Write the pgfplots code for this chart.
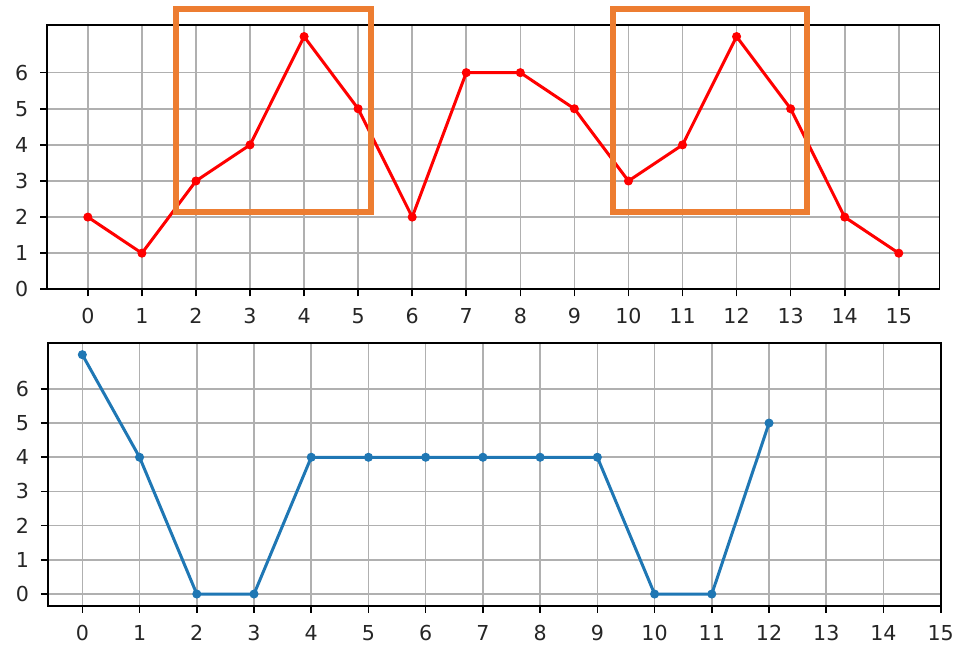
\documentclass[border=0pt]{standalone}
\usepackage{pgfplots}
\pgfplotsset{compat=1.18}
\usepackage{fontspec}
\setmainfont{DejaVu Sans}
\definecolor{mplblue}{HTML}{1F77B4}
\definecolor{boxorange}{HTML}{ED7D31}
\definecolor{gridgray}{HTML}{B0B0B0}
\pgfplotsset{
 mystyle/.style={
  scale only axis,
  anchor=south west,
  axis line style={black, line width=0.8pt},
  grid=major,
  major grid style={gridgray, line width=0.8pt},
  tick align=outside,
  major tick length=3.5pt,
  tick style={black, line width=0.8pt},
  xtick pos=left, ytick pos=left,
  /pgf/number format/assume math mode=true,
  tick label style={font=\fontsize{10.3}{12}\selectfont, inner sep=0pt, text=black!85},
  xticklabel shift=5.85pt,
  yticklabel shift=5.8pt,
  xtick={0,...,15}, ytick={0,...,6},
 }
}
\begin{document}
\begin{tikzpicture}
\useasboundingbox (0,0) rectangle (479pt,326pt);
\begin{axis}[mystyle, at={(23.65pt,181.35pt)}, width=446pt, height=132.15pt,
  xmin=-0.75, xmax=15.75, ymin=0, ymax=7.32, clip=false]
\addplot[red, line width=1.5pt, mark=*, mark size=2pt, mark options={line width=0.5pt}] coordinates {
 (0,2) (1,1) (2,3) (3,4) (4,7) (5,5) (6,2) (7,6) (8,6) (9,5) (10,3) (11,4) (12,7) (13,5) (14,2) (15,1)};
\draw[boxorange, line width=3pt] (axis cs:1.635,2.13) rectangle (axis cs:5.23,7.75);
\draw[boxorange, line width=3pt] (axis cs:9.72,2.13) rectangle (axis cs:13.30,7.75);
\end{axis}
\begin{axis}[mystyle, at={(24pt,23pt)}, width=446.35pt, height=131.65pt,
  xmin=-0.6, xmax=15, ymin=-0.35, ymax=7.35]
\addplot[mplblue, line width=1.5pt, mark=*, mark size=2pt, mark options={line width=0.5pt}] coordinates {
 (0,7) (1,4) (2,0) (3,0) (4,4) (5,4) (6,4) (7,4) (8,4) (9,4) (10,0) (11,0) (12,5)};
\end{axis}
\end{tikzpicture}
\end{document}
